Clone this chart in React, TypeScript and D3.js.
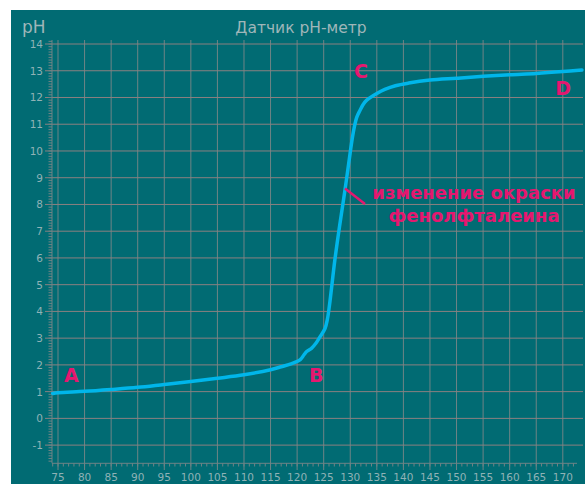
import React from "react";
import * as d3 from "d3";

const volumes = [74.0, 75, 80, 85, 90, 95, 100, 105, 110, 115, 117, 119, 120.6, 121.3, 121.8, 122.7, 123.5, 124.3, 125.25, 125.7, 126.1, 127.1, 128.0, 129.0, 129.96, 130.4, 130.77, 131.2, 131.84, 132.4, 133.1, 135.0, 136.5, 138.5, 141, 145, 150, 155, 160, 165, 170, 173.6];
const phValues = [0.93, 0.96, 1.01, 1.08, 1.16, 1.27, 1.38, 1.5, 1.63, 1.82, 1.93, 2.05, 2.2, 2.38, 2.5, 2.62, 2.8, 3.05, 3.36, 3.71, 4.25, 5.92, 7.2, 8.53, 9.9, 10.5, 10.9, 11.25, 11.52, 11.73, 11.9, 12.15, 12.3, 12.44, 12.54, 12.65, 12.72, 12.79, 12.85, 12.9, 12.97, 13.03];
const xTicks = [75, 80, 85, 90, 95, 100, 105, 110, 115, 120, 125, 130, 135, 140, 145, 150, 155, 160, 165, 170];
const yTicks = [-1, 0, 1, 2, 3, 4, 5, 6, 7, 8, 9, 10, 11, 12, 13, 14];
const pointLabels = [
  { text: "A", v: 77.5, ph: 1.35 },
  { text: "B", v: 123.6, ph: 1.35 },
  { text: "C", v: 132.0, ph: 12.72 },
  { text: "D", v: 170.05, ph: 12.09 },
];
const title = "Датчик pH-метр";
const yTitle = "pH";
const noteLines = ["изменение окраски", "фенолфталеина"];

export default function App() {
  const W = 585, H = 484;
  const x = d3.scaleLinear().domain([73.87, 173.8]).range([52, 583]);
  const y = d3.scaleLinear().domain([-1.68, 14.15]).range([463.3, 40]);
  const line = d3.line<number>().x((_, i) => x(volumes[i])).y((d) => y(d)).curve(d3.curveCatmullRom.alpha(0.5));
  const xMinor = d3.range(74, 173, 1);
  const yMinor = d3.range(-1.6, 14.15, 0.1);
  const bg = "#016b73";
  const vGrid = "#6f8486";
  const hGrid = "#8b8080";
  const tickCol = "#8fb2b6";
  const mag = "#e5176f";
  const font = "DejaVu Sans, sans-serif";
  return (
    <svg width={W} height={H} style={{ position: "absolute", left: 0, top: 0 }}>
      <rect x={11} y={10} width={W - 11} height={H - 10} fill={bg} />
      <text x={301} y={33} textAnchor="middle" fontFamily={font} fontSize={15.5} fill="#9fb6b9">{title}</text>
      <text x={22} y={33} fontFamily={font} fontSize={17} fill="#9fb6b9">{yTitle}</text>
      {xTicks.map((t) => (
        <line key={"vx" + t} x1={x(t)} x2={x(t)} y1={40} y2={470} stroke={vGrid} strokeWidth={1} />
      ))}
      {yTicks.map((t) => (
        <line key={"hy" + t} x1={45} x2={583} y1={y(t)} y2={y(t)} stroke={hGrid} strokeWidth={1} />
      ))}
      <line x1={52} x2={52} y1={40} y2={463.3} stroke={vGrid} strokeWidth={1} />
      <line x1={52} x2={577} y1={463.3} y2={463.3} stroke={vGrid} strokeWidth={1} />
      {xMinor.map((t) => (
        <line key={"mx" + t} x1={x(t)} x2={x(t)} y1={463.3} y2={466.5} stroke={vGrid} strokeWidth={1} />
      ))}
      {yMinor.map((t, i) => (
        <line key={"my" + i} x1={48.5} x2={52} y1={y(t)} y2={y(t)} stroke={vGrid} strokeWidth={1} />
      ))}
      {xTicks.map((t) => (
        <text key={"tx" + t} x={x(t)} y={481} textAnchor="middle" fontFamily={font} fontSize={10.5} fill={tickCol}>{t}</text>
      ))}
      {yTicks.map((t) => (
        <text key={"ty" + t} x={43} y={y(t) + 4} textAnchor="end" fontFamily={font} fontSize={10.5} fill={tickCol}>{t}</text>
      ))}
      <path d={line(phValues) || ""} fill="none" stroke="#00b6ea" strokeWidth={3.5} strokeLinejoin="round" strokeLinecap="round" />
      {pointLabels.map((p) => (
        <text key={p.text} x={x(p.v)} y={y(p.ph)} textAnchor="middle" fontFamily={font} fontWeight="bold" fontSize={19} fill={mag}>{p.text}</text>
      ))}
      <line x1={345} y1={188.5} x2={365} y2={204} stroke={mag} strokeWidth={2.5} />
      <text x={474} y={199} textAnchor="middle" fontFamily={font} fontWeight="bold" fontSize={18} fill={mag}>{noteLines[0]}</text>
      <text x={474} y={222} textAnchor="middle" fontFamily={font} fontWeight="bold" fontSize={18} fill={mag}>{noteLines[1]}</text>
    </svg>
  );
}
